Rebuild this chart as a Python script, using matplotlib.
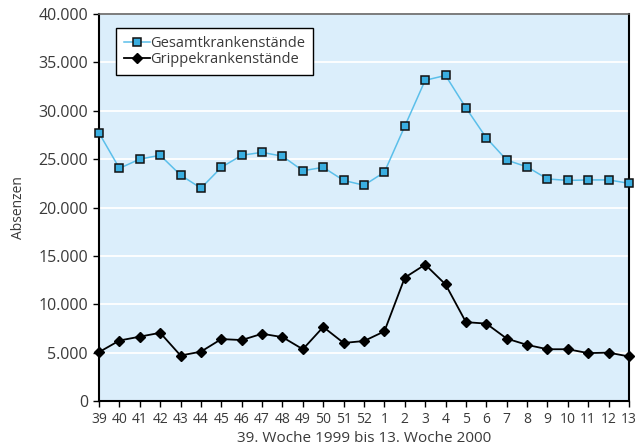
import matplotlib
matplotlib.use("Agg")
import matplotlib.pyplot as plt
import numpy as np

plt.rcParams['font.family'] = ['Open Sans', 'DejaVu Sans']

# Kalenderwochen 39/1999 bis 13/2000
wochen = ['39', '40', '41', '42', '43', '44', '45', '46', '47', '48', '49', '50', '51', '52',
          '1', '2', '3', '4', '5', '6', '7', '8', '9', '10', '11', '12', '13']
gesamt = [27700, 24050, 25000, 25400, 23350, 22000, 24150, 25400, 25700, 25300, 23800,
          24150, 22800, 22300, 23650, 28400, 33150, 33650, 30300, 27200, 24900, 24200,
          22950, 22800, 22850, 22850, 22500]
grippe = [5050, 6250, 6650, 7050, 4700, 5100, 6400, 6300, 6950, 6600, 5350,
          7650, 6000, 6200, 7200, 12750, 14100, 12050, 8150, 8000, 6450, 5800,
          5350, 5350, 4950, 5000, 4600]

txt = '#3a3a3a'
fig = plt.figure(figsize=(6.36, 4.46), dpi=100)
ax = fig.add_axes([0.1557, 0.1009, 0.8333, 0.8677])
ax.set_facecolor('#dbeefb')

x = np.arange(len(wochen))
ax.plot(x, gesamt, color='#5bbfea', lw=1.1, marker='s', ms=5.5,
        mfc='#3aaee0', mec='#111111', mew=1.1, clip_on=False, zorder=3,
        label='Gesamtkrankenstände')
ax.plot(x, grippe, color='black', lw=1.3, marker='D', ms=5.5,
        mfc='black', mec='black', clip_on=False, zorder=3,
        label='Grippekrankenstände')

ax.set_xlim(0, len(wochen) - 1)
ax.set_ylim(0, 40000)
ax.set_xticks(x)
ax.set_xticklabels(wochen)
yt = np.arange(0, 40001, 5000)
ax.set_yticks(yt)
ax.set_yticklabels(['0' if v == 0 else f'{v // 1000}.000' for v in yt])
ax.yaxis.grid(True, color='white', lw=1.3)
ax.set_axisbelow(True)

for s in ['left', 'bottom', 'right']:
    ax.spines[s].set_color('black')
    ax.spines[s].set_linewidth(1.5)
ax.spines['top'].set_color('#666666')
ax.spines['top'].set_linewidth(1.2)

ax.tick_params(axis='both', direction='out', length=4, width=1, colors='black',
               labelcolor=txt)
ax.tick_params(axis='x', labelsize=10, pad=4)
ax.tick_params(axis='y', labelsize=11.5, pad=4)

ax.set_ylabel('Absenzen', fontsize=10, color=txt, labelpad=9)
ax.set_xlabel('39. Woche 1999 bis 13. Woche 2000', fontsize=11, color=txt, labelpad=3)

leg = ax.legend(loc='upper left', bbox_to_anchor=(0.032, 0.964), fontsize=10.5,
                frameon=True, fancybox=False, edgecolor='black', framealpha=1,
                handlelength=1.8, handletextpad=0.0, borderpad=0.55, labelspacing=0.1,
                borderaxespad=0)
leg.get_frame().set_linewidth(1.0)
for t in leg.get_texts():
    t.set_color(txt)

fig.savefig('out.png', dpi=100)
